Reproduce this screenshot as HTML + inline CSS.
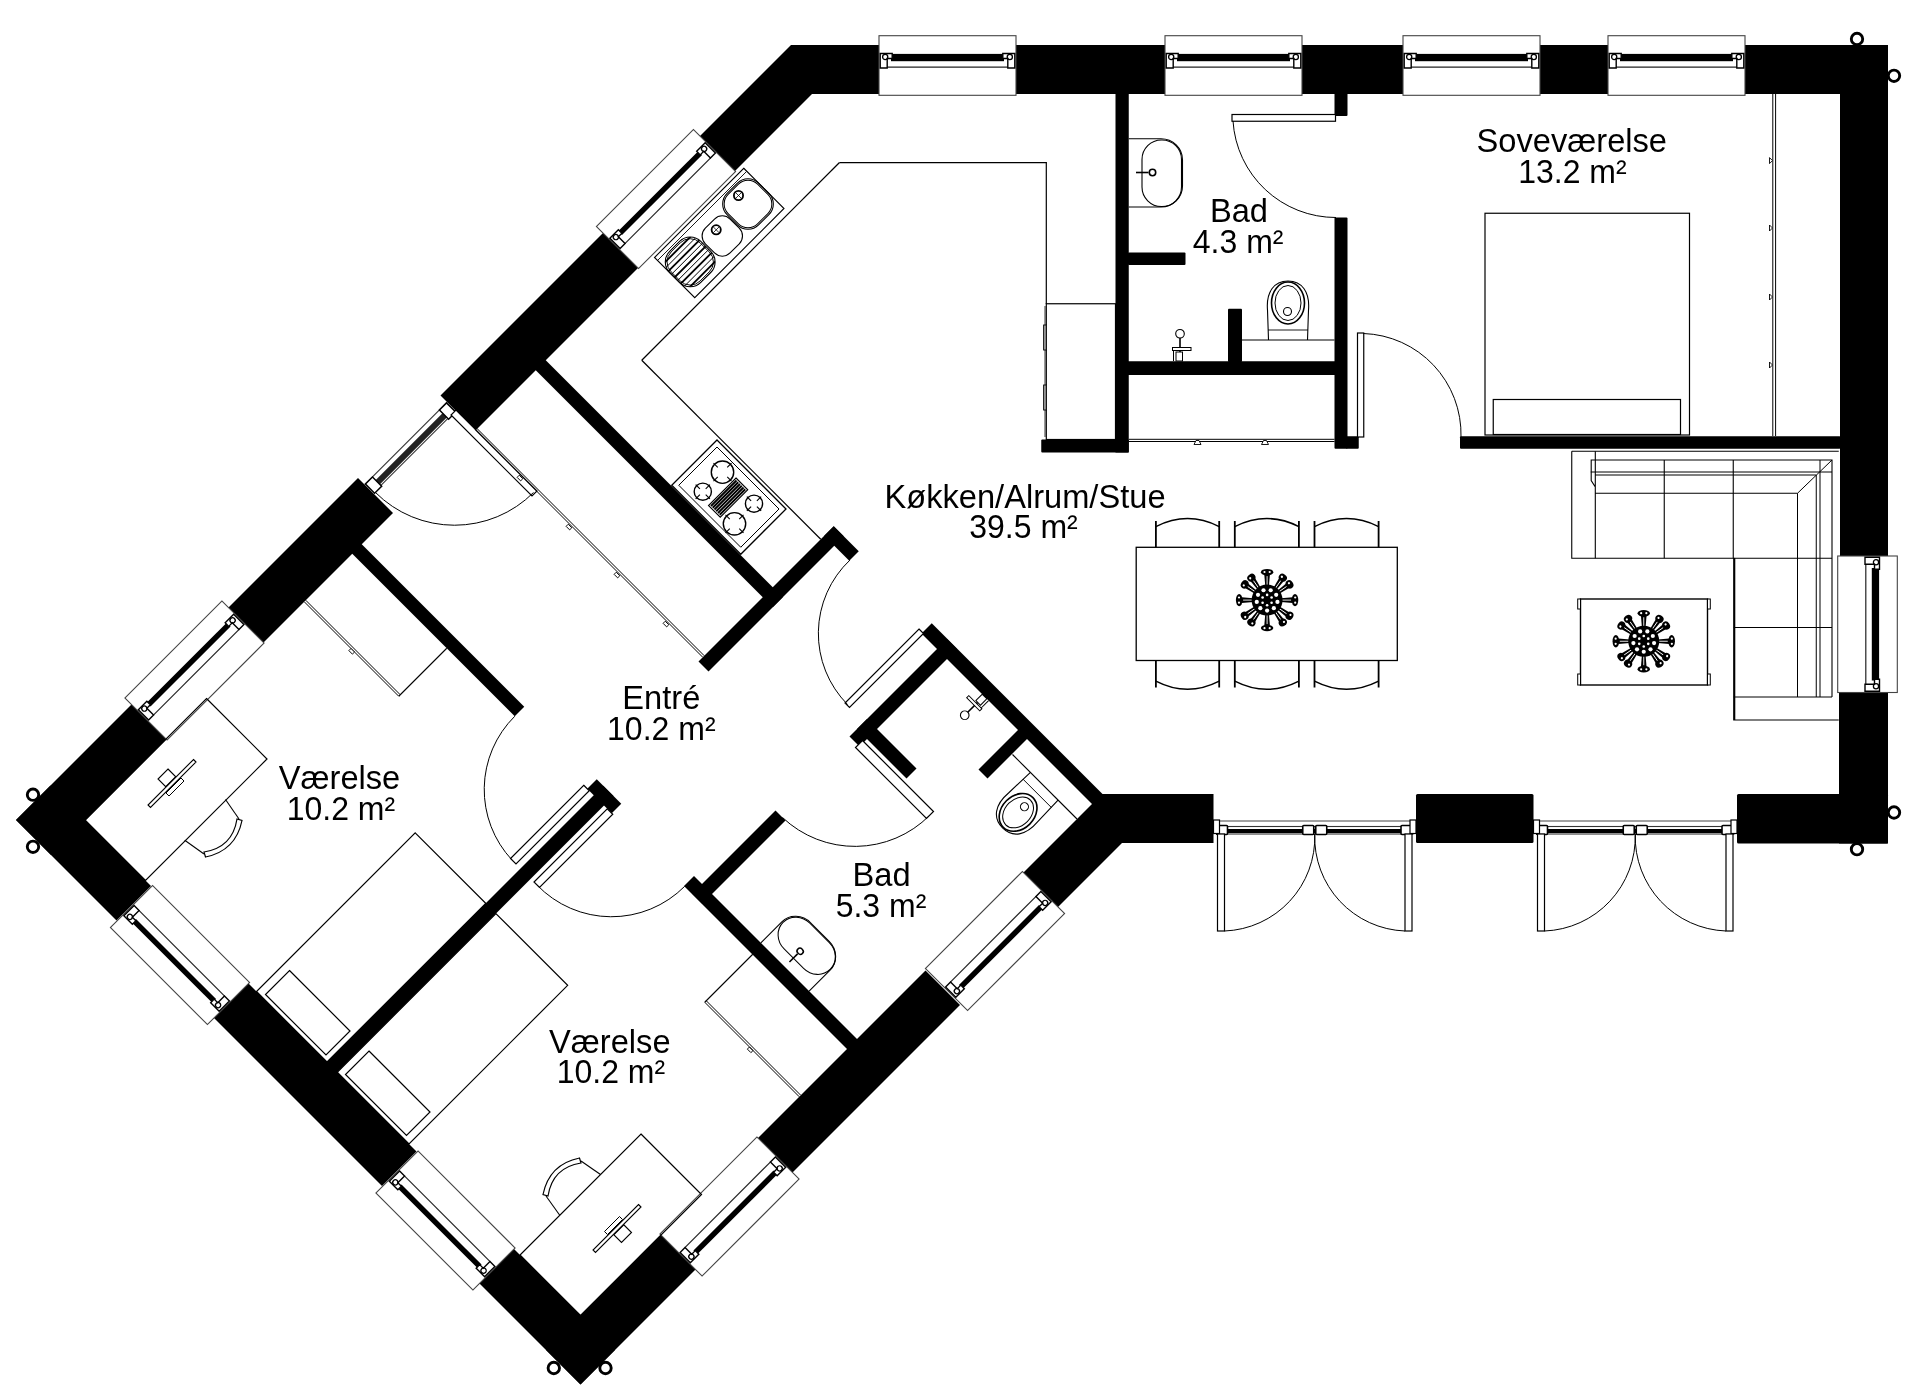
<!DOCTYPE html>
<html><head><meta charset="utf-8"><title>Plan</title>
<style>html,body{margin:0;padding:0;background:#fff;}svg{display:block;will-change:transform;}
text{font-family:"Liberation Sans",sans-serif;}</style></head>
<body>
<svg width="1920" height="1396" viewBox="0 0 1920 1396">
<rect width="1920" height="1396" fill="#fff"/>
<polygon points="791,45 880,45 880,94 812,94 735,171 700,136" fill="#000" />
<rect x="1016" y="45" width="149" height="49" fill="#000"/>
<rect x="1302" y="45" width="101" height="49" fill="#000"/>
<rect x="1540" y="45" width="68" height="49" fill="#000"/>
<rect x="1745" y="45" width="143" height="49" fill="#000"/>
<rect x="1840" y="45" width="48" height="511" fill="#000"/>
<rect x="1839" y="692.5" width="49" height="151" fill="#000"/>
<rect x="1416" y="794" width="117.5" height="49" rx="1.5" fill="#000"/>
<rect x="1737" y="794" width="151" height="49.5" rx="1.5" fill="#000"/>
<polygon points="1101.5,794 1213.5,794 1213.5,843 1122,843 1058,907 1023.5,872.5 1092,804" fill="#000" />
<polygon points="931.75,623.25 1106.75,798.25 1096.5,808.5 921.5,633.5" fill="#000" />
<polygon points="603,233 638,268 475.5,430.5 440.5,395.5" fill="#000" />
<polygon points="358,478 393,513 263.5,642.5 228.5,607.5" fill="#000" />
<polygon points="131.5,704.5 166.5,739.5 51,855 16,820" fill="#000" />
<polygon points="50.5,785.5 151,886 116.5,920.5 16,820" fill="#000" />
<polygon points="248.5,983.5 416.5,1151.5 382,1186 214,1018" fill="#000" />
<polygon points="514,1249 615,1350 580.5,1384.5 479.5,1283.5" fill="#000" />
<polygon points="661,1235 695.5,1269.5 580.5,1384.5 546,1350" fill="#000" />
<polygon points="925.5,970.5 960,1005 792.5,1172.5 758,1138" fill="#000" />
<polygon points="542.75,357.25 782.75,597.25 772.75,607.25 532.75,367.25" fill="#000" />
<polygon points="833.75,526.25 843.75,536.25 708.5,671.5 698.5,661.5" fill="#000" />
<polygon points="833.75,526.25 858.75,551.25 849.25,560.75 824.25,535.75" fill="#000" />
<polygon points="358.75,541.25 524.25,706.75 514.75,716.25 349.25,550.75" fill="#000" />
<polygon points="596.75,779.25 621.25,803.75 611.75,813.25 587.25,788.75" fill="#000" />
<polygon points="603.25,785.75 613.5,796 334.75,1074.75 324.5,1064.5" fill="#000" />
<polygon points="947,639 957,649 859.5,746.5 849.5,736.5" fill="#000" />
<polygon points="867,719 916.5,768.5 906.5,778.5 857,729" fill="#000" />
<polygon points="1019,729 1028,738 987.5,778.5 978.5,769.5" fill="#000" />
<polygon points="775.5,810.5 785.5,820.5 702.25,903.75 692.25,893.75" fill="#000" />
<polygon points="694,876 859,1041 849,1051 684,886" fill="#000" />
<rect x="1115.5" y="93" width="13.25" height="359.5" fill="#000"/>
<rect x="1041.25" y="439.5" width="87.5" height="13" rx="1" fill="#000"/>
<rect x="1128" y="252.5" width="57.5" height="12.5" rx="1" fill="#000"/>
<rect x="1128" y="361.25" width="207" height="13.75" fill="#000"/>
<rect x="1228" y="308.75" width="14" height="53.25" rx="1" fill="#000"/>
<rect x="1334.5" y="93" width="13" height="23" rx="1" fill="#000"/>
<rect x="1334.5" y="217.5" width="13" height="231.25" rx="1" fill="#000"/>
<rect x="1346" y="436.25" width="12.75" height="12.5" rx="1" fill="#000"/>
<rect x="1460" y="436.25" width="380.5" height="12.5" rx="1" fill="#000"/>
<g transform="translate(879,45) rotate(0)">
<rect x="0" y="-9.3" width="137" height="59.6" fill="#fff" stroke="#444" stroke-width="1.1"/>
<rect x="12" y="8.9" width="113" height="7.3" fill="#000"/>
<line x1="8" y1="22.2" x2="129" y2="22.2" stroke="#222" stroke-width="1.2"/>
<path d="M1.2,8.5 h12 v5 h-5 v9.5 h-7 z" fill="#fff" stroke="#000" stroke-width="1.4"/>
<circle cx="6.2" cy="12" r="2.6" fill="none" stroke="#000" stroke-width="1.3"/>
<path d="M135.8,8.5 h-12 v5 h5 v9.5 h7 z" fill="#fff" stroke="#000" stroke-width="1.4"/>
<circle cx="130.8" cy="12" r="2.6" fill="none" stroke="#000" stroke-width="1.3"/>
</g>
<g transform="translate(1165,45) rotate(0)">
<rect x="0" y="-9.3" width="137" height="59.6" fill="#fff" stroke="#444" stroke-width="1.1"/>
<rect x="12" y="8.9" width="113" height="7.3" fill="#000"/>
<line x1="8" y1="22.2" x2="129" y2="22.2" stroke="#222" stroke-width="1.2"/>
<path d="M1.2,8.5 h12 v5 h-5 v9.5 h-7 z" fill="#fff" stroke="#000" stroke-width="1.4"/>
<circle cx="6.2" cy="12" r="2.6" fill="none" stroke="#000" stroke-width="1.3"/>
<path d="M135.8,8.5 h-12 v5 h5 v9.5 h7 z" fill="#fff" stroke="#000" stroke-width="1.4"/>
<circle cx="130.8" cy="12" r="2.6" fill="none" stroke="#000" stroke-width="1.3"/>
</g>
<g transform="translate(1403,45) rotate(0)">
<rect x="0" y="-9.3" width="137" height="59.6" fill="#fff" stroke="#444" stroke-width="1.1"/>
<rect x="12" y="8.9" width="113" height="7.3" fill="#000"/>
<line x1="8" y1="22.2" x2="129" y2="22.2" stroke="#222" stroke-width="1.2"/>
<path d="M1.2,8.5 h12 v5 h-5 v9.5 h-7 z" fill="#fff" stroke="#000" stroke-width="1.4"/>
<circle cx="6.2" cy="12" r="2.6" fill="none" stroke="#000" stroke-width="1.3"/>
<path d="M135.8,8.5 h-12 v5 h5 v9.5 h7 z" fill="#fff" stroke="#000" stroke-width="1.4"/>
<circle cx="130.8" cy="12" r="2.6" fill="none" stroke="#000" stroke-width="1.3"/>
</g>
<g transform="translate(1608,45) rotate(0)">
<rect x="0" y="-9.3" width="137" height="59.6" fill="#fff" stroke="#444" stroke-width="1.1"/>
<rect x="12" y="8.9" width="113" height="7.3" fill="#000"/>
<line x1="8" y1="22.2" x2="129" y2="22.2" stroke="#222" stroke-width="1.2"/>
<path d="M1.2,8.5 h12 v5 h-5 v9.5 h-7 z" fill="#fff" stroke="#000" stroke-width="1.4"/>
<circle cx="6.2" cy="12" r="2.6" fill="none" stroke="#000" stroke-width="1.3"/>
<path d="M135.8,8.5 h-12 v5 h5 v9.5 h7 z" fill="#fff" stroke="#000" stroke-width="1.4"/>
<circle cx="130.8" cy="12" r="2.6" fill="none" stroke="#000" stroke-width="1.3"/>
</g>
<g transform="translate(1888,556) rotate(90)">
<rect x="0" y="-9.3" width="136.5" height="59.6" fill="#fff" stroke="#444" stroke-width="1.1"/>
<rect x="12" y="8.9" width="112.5" height="7.3" fill="#000"/>
<line x1="8" y1="22.2" x2="128.5" y2="22.2" stroke="#222" stroke-width="1.2"/>
<path d="M1.2,8.5 h12 v5 h-5 v9.5 h-7 z" fill="#fff" stroke="#000" stroke-width="1.4"/>
<circle cx="6.2" cy="12" r="2.6" fill="none" stroke="#000" stroke-width="1.3"/>
<path d="M135.3,8.5 h-12 v5 h5 v9.5 h7 z" fill="#fff" stroke="#000" stroke-width="1.4"/>
<circle cx="130.3" cy="12" r="2.6" fill="none" stroke="#000" stroke-width="1.3"/>
</g>
<g transform="translate(603,233) rotate(-45)">
<rect x="0" y="-9.3" width="137.18" height="59.6" fill="#fff" stroke="#444" stroke-width="1.1"/>
<rect x="12" y="9.4" width="113.18" height="5.5" fill="#000"/>
<line x1="8" y1="23" x2="129.18" y2="23" stroke="#222" stroke-width="1.2"/>
<path d="M1.2,8.5 h12 v5 h-5 v9.5 h-7 z" fill="#fff" stroke="#000" stroke-width="1.4"/>
<circle cx="6.2" cy="12" r="2.6" fill="none" stroke="#000" stroke-width="1.3"/>
<path d="M135.98,8.5 h-12 v5 h5 v9.5 h7 z" fill="#fff" stroke="#000" stroke-width="1.4"/>
<circle cx="130.98" cy="12" r="2.6" fill="none" stroke="#000" stroke-width="1.3"/>
</g>
<g transform="translate(131.5,704.5) rotate(-45)">
<rect x="0" y="-9.3" width="137.18" height="59.6" fill="#fff" stroke="#444" stroke-width="1.1"/>
<rect x="12" y="9.4" width="113.18" height="5.5" fill="#000"/>
<line x1="8" y1="23" x2="129.18" y2="23" stroke="#222" stroke-width="1.2"/>
<path d="M1.2,8.5 h12 v5 h-5 v9.5 h-7 z" fill="#fff" stroke="#000" stroke-width="1.4"/>
<circle cx="6.2" cy="12" r="2.6" fill="none" stroke="#000" stroke-width="1.3"/>
<path d="M135.98,8.5 h-12 v5 h5 v9.5 h7 z" fill="#fff" stroke="#000" stroke-width="1.4"/>
<circle cx="130.98" cy="12" r="2.6" fill="none" stroke="#000" stroke-width="1.3"/>
</g>
<g transform="translate(1058,907) rotate(135)">
<rect x="0" y="-9.3" width="137.18" height="59.6" fill="#fff" stroke="#444" stroke-width="1.1"/>
<rect x="12" y="9.4" width="113.18" height="5.5" fill="#000"/>
<line x1="8" y1="23" x2="129.18" y2="23" stroke="#222" stroke-width="1.2"/>
<path d="M1.2,8.5 h12 v5 h-5 v9.5 h-7 z" fill="#fff" stroke="#000" stroke-width="1.4"/>
<circle cx="6.2" cy="12" r="2.6" fill="none" stroke="#000" stroke-width="1.3"/>
<path d="M135.98,8.5 h-12 v5 h5 v9.5 h7 z" fill="#fff" stroke="#000" stroke-width="1.4"/>
<circle cx="130.98" cy="12" r="2.6" fill="none" stroke="#000" stroke-width="1.3"/>
</g>
<g transform="translate(792.5,1172.5) rotate(135)">
<rect x="0" y="-9.3" width="137.18" height="59.6" fill="#fff" stroke="#444" stroke-width="1.1"/>
<rect x="12" y="9.4" width="113.18" height="5.5" fill="#000"/>
<line x1="8" y1="23" x2="129.18" y2="23" stroke="#222" stroke-width="1.2"/>
<path d="M1.2,8.5 h12 v5 h-5 v9.5 h-7 z" fill="#fff" stroke="#000" stroke-width="1.4"/>
<circle cx="6.2" cy="12" r="2.6" fill="none" stroke="#000" stroke-width="1.3"/>
<path d="M135.98,8.5 h-12 v5 h5 v9.5 h7 z" fill="#fff" stroke="#000" stroke-width="1.4"/>
<circle cx="130.98" cy="12" r="2.6" fill="none" stroke="#000" stroke-width="1.3"/>
</g>
<g transform="translate(479.5,1283.5) rotate(-135)">
<rect x="0" y="-9.3" width="137.18" height="59.6" fill="#fff" stroke="#444" stroke-width="1.1"/>
<rect x="12" y="9.4" width="113.18" height="5.5" fill="#000"/>
<line x1="8" y1="23" x2="129.18" y2="23" stroke="#222" stroke-width="1.2"/>
<path d="M1.2,8.5 h12 v5 h-5 v9.5 h-7 z" fill="#fff" stroke="#000" stroke-width="1.4"/>
<circle cx="6.2" cy="12" r="2.6" fill="none" stroke="#000" stroke-width="1.3"/>
<path d="M135.98,8.5 h-12 v5 h5 v9.5 h7 z" fill="#fff" stroke="#000" stroke-width="1.4"/>
<circle cx="130.98" cy="12" r="2.6" fill="none" stroke="#000" stroke-width="1.3"/>
</g>
<g transform="translate(214,1018) rotate(-135)">
<rect x="0" y="-9.3" width="137.18" height="59.6" fill="#fff" stroke="#444" stroke-width="1.1"/>
<rect x="12" y="9.4" width="113.18" height="5.5" fill="#000"/>
<line x1="8" y1="23" x2="129.18" y2="23" stroke="#222" stroke-width="1.2"/>
<path d="M1.2,8.5 h12 v5 h-5 v9.5 h-7 z" fill="#fff" stroke="#000" stroke-width="1.4"/>
<circle cx="6.2" cy="12" r="2.6" fill="none" stroke="#000" stroke-width="1.3"/>
<path d="M135.98,8.5 h-12 v5 h5 v9.5 h7 z" fill="#fff" stroke="#000" stroke-width="1.4"/>
<circle cx="130.98" cy="12" r="2.6" fill="none" stroke="#000" stroke-width="1.3"/>
</g>
<g transform="translate(358,478) rotate(-45)">
<line x1="0" y1="9.5" x2="116.67" y2="9.5" stroke="#333" stroke-width="1.1"/>
<rect x="9" y="14" width="98.67" height="6" fill="#222"/>
<line x1="6" y1="21.5" x2="110.67" y2="21.5" stroke="#333" stroke-width="1.1"/>
<path d="M1,9.5 h10 v13 h-10 z" fill="#fff" stroke="#000" stroke-width="1.5"/>
<path d="M115.67,9.5 h-10 v13 h10 z" fill="#fff" stroke="#000" stroke-width="1.5"/>
</g>
<line x1="1213.5" y1="821" x2="1416" y2="821" stroke="#444" stroke-width="1.2"/>
<rect x="1216.5" y="826.5" width="196.5" height="7.5" fill="#fff" stroke="#333" stroke-width="1.1"/>
<rect x="1225.5" y="829" width="178.5" height="4" fill="#000"/>
<rect x="1216.5" y="825.5" width="11" height="9" rx="1" fill="#fff" stroke="#000" stroke-width="1.6"/>
<rect x="1302.75" y="825.5" width="11" height="9" rx="1" fill="#fff" stroke="#000" stroke-width="1.6"/>
<rect x="1315.75" y="825.5" width="11" height="9" rx="1" fill="#fff" stroke="#000" stroke-width="1.6"/>
<rect x="1401" y="825.5" width="11" height="9" rx="1" fill="#fff" stroke="#000" stroke-width="1.6"/>
<rect x="1213.5" y="820" width="6" height="13.5" fill="#fff" stroke="#000" stroke-width="1.2"/>
<rect x="1410" y="820" width="6" height="13.5" fill="#fff" stroke="#000" stroke-width="1.2"/>
<rect x="1217.5" y="834" width="7" height="97" fill="#fff" stroke="#000" stroke-width="1.2"/>
<rect x="1405" y="834" width="7" height="97" fill="#fff" stroke="#000" stroke-width="1.2"/>
<path d="M1224.5,931 A93.75,93.75 0 0 0 1314.75,834" stroke="#000" stroke-width="1.0" fill="none"/>
<path d="M1405,931 A93.75,93.75 0 0 1 1314.75,834" stroke="#000" stroke-width="1.0" fill="none"/>
<line x1="1533.5" y1="821" x2="1737" y2="821" stroke="#444" stroke-width="1.2"/>
<rect x="1536.5" y="826.5" width="197.5" height="7.5" fill="#fff" stroke="#333" stroke-width="1.1"/>
<rect x="1545.5" y="829" width="179.5" height="4" fill="#000"/>
<rect x="1536.5" y="825.5" width="11" height="9" rx="1" fill="#fff" stroke="#000" stroke-width="1.6"/>
<rect x="1623.25" y="825.5" width="11" height="9" rx="1" fill="#fff" stroke="#000" stroke-width="1.6"/>
<rect x="1636.25" y="825.5" width="11" height="9" rx="1" fill="#fff" stroke="#000" stroke-width="1.6"/>
<rect x="1722" y="825.5" width="11" height="9" rx="1" fill="#fff" stroke="#000" stroke-width="1.6"/>
<rect x="1533.5" y="820" width="6" height="13.5" fill="#fff" stroke="#000" stroke-width="1.2"/>
<rect x="1731" y="820" width="6" height="13.5" fill="#fff" stroke="#000" stroke-width="1.2"/>
<rect x="1537.5" y="834" width="7" height="97" fill="#fff" stroke="#000" stroke-width="1.2"/>
<rect x="1726" y="834" width="7" height="97" fill="#fff" stroke="#000" stroke-width="1.2"/>
<path d="M1544.5,931 A94.25,94.25 0 0 0 1635.25,834" stroke="#000" stroke-width="1.0" fill="none"/>
<path d="M1726,931 A94.25,94.25 0 0 1 1635.25,834" stroke="#000" stroke-width="1.0" fill="none"/>
<polygon points="456,410 537,491 532,496 451,415" fill="#fff" stroke="#000" stroke-width="1.2"/>
<path d="M533.5,492.5 A111.72,111.72 0 0 1 375.5,492.5" stroke="#000" stroke-width="1.0" fill="none"/>
<polygon points="583.75,785.25 589.25,790.75 516,864 510.5,858.5" fill="#fff" stroke="#000" stroke-width="1.2"/>
<path d="M512,860 A103.24,103.24 0 0 1 514.75,716.25" stroke="#000" stroke-width="1.0" fill="none"/>
<polygon points="607.25,808.75 612.75,814.25 539.5,887.5 534,882" fill="#fff" stroke="#000" stroke-width="1.2"/>
<path d="M537,885 A103.24,103.24 0 0 0 684.75,886.25" stroke="#000" stroke-width="1.0" fill="none"/>
<polygon points="919,629 923.5,633.5 849.5,707.5 845,703" fill="#fff" stroke="#000" stroke-width="1.2"/>
<path d="M847.5,704.5 A101.12,101.12 0 0 1 850,560" stroke="#000" stroke-width="1.0" fill="none"/>
<polygon points="862.5,740.5 933.5,811.5 926.5,818.5 855.5,747.5" fill="#fff" stroke="#000" stroke-width="1.2"/>
<path d="M929.5,815.5 A105.36,105.36 0 0 1 782.5,817.5" stroke="#000" stroke-width="1.0" fill="none"/>
<rect x="1232" y="114.5" width="103.5" height="6.75" fill="#fff" stroke="#000" stroke-width="1.2"/>
<path d="M1233,121 A103,103 0 0 0 1336,217.5" stroke="#000" stroke-width="1.0" fill="none"/>
<rect x="1357.5" y="333" width="6.25" height="104" fill="#fff" stroke="#000" stroke-width="1.2"/>
<path d="M1363.5,333.5 A101,101 0 0 1 1461,437" stroke="#000" stroke-width="1.0" fill="none"/>
<line x1="839.5" y1="162.6" x2="1046.5" y2="162.6" stroke="#000" stroke-width="1.2"/>
<line x1="1046.3" y1="162" x2="1046.3" y2="304" stroke="#000" stroke-width="1.2"/>
<line x1="839.5" y1="162.5" x2="641.75" y2="360.25" stroke="#000" stroke-width="1.2"/>
<line x1="641.75" y1="360.25" x2="820.75" y2="539.25" stroke="#000" stroke-width="1.2"/>
<rect x="1046.3" y="303.75" width="69.2" height="135.75" fill="none" stroke="#000" stroke-width="1.2"/>
<rect x="1043.6" y="325" width="2.7" height="25" fill="#fff" stroke="#000" stroke-width="0.9"/>
<rect x="1043.6" y="385" width="2.7" height="25" fill="#fff" stroke="#000" stroke-width="0.9"/>
<line x1="1045" y1="306" x2="1045" y2="437" stroke="#000" stroke-width="0.8"/>
<polygon points="743.75,168.25 784,208.5 694.75,297.75 654.5,257.5" fill="#fff" stroke="#000" stroke-width="1.1"/>
<rect x="725.7" y="181.7" width="44.6" height="44.6" rx="15" fill="none" stroke="#000" stroke-width="1.1" transform="rotate(45 748 204)"/>
<rect x="727.2" y="183.2" width="41.6" height="41.6" rx="13.5" fill="none" stroke="#000" stroke-width="1.0" transform="rotate(45 748 204)"/>
<rect x="704.8" y="218.5" width="35" height="35" rx="11" fill="none" stroke="#000" stroke-width="1.1" transform="rotate(45 722.3 236)"/>
<clipPath id="drn"><rect x="668.2" y="239.9" width="44" height="44" rx="15" transform="rotate(45 690.2 261.9)"/></clipPath>
<g clip-path="url(#drn)">
<line x1="692.4" y1="222.4" x2="647.4" y2="267.4" stroke="#000" stroke-width="1.8"/>
<line x1="695.5" y1="225.5" x2="650.5" y2="270.5" stroke="#000" stroke-width="1.0"/>
<line x1="698.6" y1="228.6" x2="653.6" y2="273.6" stroke="#000" stroke-width="1.8"/>
<line x1="701.7" y1="231.7" x2="656.7" y2="276.7" stroke="#000" stroke-width="1.0"/>
<line x1="704.8" y1="234.8" x2="659.8" y2="279.8" stroke="#000" stroke-width="1.8"/>
<line x1="707.9" y1="237.9" x2="662.9" y2="282.9" stroke="#000" stroke-width="1.0"/>
<line x1="711" y1="241" x2="666" y2="286" stroke="#000" stroke-width="1.8"/>
<line x1="714.1" y1="244.1" x2="669.1" y2="289.1" stroke="#000" stroke-width="1.0"/>
<line x1="717.2" y1="247.2" x2="672.2" y2="292.2" stroke="#000" stroke-width="1.8"/>
<line x1="720.3" y1="250.3" x2="675.3" y2="295.3" stroke="#000" stroke-width="1.0"/>
<line x1="723.4" y1="253.4" x2="678.4" y2="298.4" stroke="#000" stroke-width="1.8"/>
<line x1="726.5" y1="256.5" x2="681.5" y2="301.5" stroke="#000" stroke-width="1.0"/>
<line x1="729.6" y1="259.6" x2="684.6" y2="304.6" stroke="#000" stroke-width="1.8"/>
</g>
<rect x="668.2" y="239.9" width="44" height="44" rx="15" fill="none" stroke="#000" stroke-width="1.1" transform="rotate(45 690.2 261.9)"/>
<rect x="669.7" y="241.4" width="41" height="41" rx="14" fill="none" stroke="#000" stroke-width="0.9" transform="rotate(45 690.2 261.9)"/>
<circle cx="738.5" cy="195.5" r="4.6" fill="none" stroke="#000" stroke-width="1.8"/>
<line x1="735.5" y1="192.5" x2="741.5" y2="198.5" stroke="#000" stroke-width="0.8"/>
<line x1="735.5" y1="198.5" x2="741.5" y2="192.5" stroke="#000" stroke-width="0.8"/>
<circle cx="716.2" cy="229.8" r="4.6" fill="none" stroke="#000" stroke-width="1.8"/>
<line x1="713.2" y1="226.8" x2="719.2" y2="232.8" stroke="#000" stroke-width="0.8"/>
<line x1="713.2" y1="232.8" x2="719.2" y2="226.8" stroke="#000" stroke-width="0.8"/>
<line x1="746.5" y1="171.5" x2="657" y2="261" stroke="#000" stroke-width="0.9"/>
<polygon points="717,440 786,509 740.75,554.25 671.75,485.25" fill="#fff" stroke="#000" stroke-width="1.3"/>
<polygon points="717,447 779,509 740.75,547.25 678.75,485.25" fill="none" stroke="#000" stroke-width="1.0"/>
<circle cx="722.5" cy="472.2" r="11.2" fill="none" stroke="#000" stroke-width="1.4"/>
<line x1="727.24" y1="476.94" x2="731.48" y2="481.18" stroke="#000" stroke-width="1.1"/>
<line x1="717.76" y1="476.94" x2="713.52" y2="481.18" stroke="#000" stroke-width="1.1"/>
<line x1="717.76" y1="467.46" x2="713.52" y2="463.22" stroke="#000" stroke-width="1.1"/>
<line x1="727.24" y1="467.46" x2="731.48" y2="463.22" stroke="#000" stroke-width="1.1"/>
<circle cx="734.5" cy="523.8" r="11.2" fill="none" stroke="#000" stroke-width="1.4"/>
<line x1="739.24" y1="528.54" x2="743.48" y2="532.78" stroke="#000" stroke-width="1.1"/>
<line x1="729.76" y1="528.54" x2="725.52" y2="532.78" stroke="#000" stroke-width="1.1"/>
<line x1="729.76" y1="519.06" x2="725.52" y2="514.82" stroke="#000" stroke-width="1.1"/>
<line x1="739.24" y1="519.06" x2="743.48" y2="514.82" stroke="#000" stroke-width="1.1"/>
<circle cx="702.8" cy="491.7" r="8.6" fill="none" stroke="#000" stroke-width="1.4"/>
<line x1="705.7" y1="494.6" x2="709.94" y2="498.84" stroke="#000" stroke-width="1.1"/>
<line x1="699.9" y1="494.6" x2="695.66" y2="498.84" stroke="#000" stroke-width="1.1"/>
<line x1="699.9" y1="488.8" x2="695.66" y2="484.56" stroke="#000" stroke-width="1.1"/>
<line x1="705.7" y1="488.8" x2="709.94" y2="484.56" stroke="#000" stroke-width="1.1"/>
<circle cx="754" cy="503.7" r="8.6" fill="none" stroke="#000" stroke-width="1.4"/>
<line x1="756.9" y1="506.6" x2="761.14" y2="510.84" stroke="#000" stroke-width="1.1"/>
<line x1="751.1" y1="506.6" x2="746.86" y2="510.84" stroke="#000" stroke-width="1.1"/>
<line x1="751.1" y1="500.8" x2="746.86" y2="496.56" stroke="#000" stroke-width="1.1"/>
<line x1="756.9" y1="500.8" x2="761.14" y2="496.56" stroke="#000" stroke-width="1.1"/>
<polygon points="736,478 747.75,489.75 720.25,517.25 708.5,505.5" fill="#fff" stroke="#000" stroke-width="1.1"/>
<line x1="736.5" y1="480.5" x2="711" y2="506" stroke="#000" stroke-width="1.9"/>
<line x1="738.25" y1="482.25" x2="712.75" y2="507.75" stroke="#000" stroke-width="1.9"/>
<line x1="740" y1="484" x2="714.5" y2="509.5" stroke="#000" stroke-width="1.9"/>
<line x1="741.75" y1="485.75" x2="716.25" y2="511.25" stroke="#000" stroke-width="1.9"/>
<line x1="743.5" y1="487.5" x2="718" y2="513" stroke="#000" stroke-width="1.9"/>
<line x1="745.25" y1="489.25" x2="719.75" y2="514.75" stroke="#000" stroke-width="1.9"/>
<line x1="476.75" y1="428.25" x2="704.25" y2="655.75" stroke="#000" stroke-width="1.0"/>
<line x1="475.25" y1="429.75" x2="702.75" y2="657.25" stroke="#000" stroke-width="1.0"/>
<rect x="518.5" y="477" width="5" height="3" fill="#fff" stroke="#000" stroke-width="0.9" transform="rotate(45 521 477)"/>
<rect x="567.5" y="526" width="5" height="3" fill="#fff" stroke="#000" stroke-width="0.9" transform="rotate(45 570 526)"/>
<rect x="615.5" y="574" width="5" height="3" fill="#fff" stroke="#000" stroke-width="0.9" transform="rotate(45 618 574)"/>
<rect x="664.5" y="623" width="5" height="3" fill="#fff" stroke="#000" stroke-width="0.9" transform="rotate(45 667 623)"/>
<line x1="305.75" y1="600.25" x2="400.25" y2="694.75" stroke="#000" stroke-width="1.0"/>
<line x1="304.25" y1="601.75" x2="398.75" y2="696.25" stroke="#000" stroke-width="1.0"/>
<line x1="446.75" y1="648.25" x2="398.75" y2="696.25" stroke="#000" stroke-width="1.1"/>
<rect x="350.25" y="650.25" width="5" height="3" fill="#fff" stroke="#000" stroke-width="0.9" transform="rotate(45 352.75 650.25)"/>
<rect x="748.75" y="1048.75" width="5" height="3" fill="#fff" stroke="#000" stroke-width="0.9" transform="rotate(45 751.25 1048.75)"/>
<line x1="752.75" y1="954.25" x2="704.75" y2="1002.25" stroke="#000" stroke-width="1.1"/>
<line x1="706.25" y1="1000.75" x2="800.75" y2="1095.25" stroke="#000" stroke-width="1.0"/>
<line x1="704.75" y1="1002.25" x2="799.25" y2="1096.75" stroke="#000" stroke-width="1.0"/>
<polygon points="415.2,832.8 485.7,903.3 327,1062 256.5,991.5" fill="none" stroke="#000" stroke-width="1.2"/>
<polygon points="289.5,970.5 350,1031 326,1055 265.5,994.5" fill="none" stroke="#000" stroke-width="1.2"/>
<polygon points="495.9,913.6 567.65,985.35 409,1144 337.25,1072.25" fill="none" stroke="#000" stroke-width="1.2"/>
<polygon points="369,1051 430,1112 406.5,1135.5 345.5,1074.5" fill="none" stroke="#000" stroke-width="1.2"/>
<polygon points="206.5,698.5 267,759 145.5,880.5 85,820" fill="none" stroke="#000" stroke-width="1.2"/>
<polygon points="641,1134 701.5,1194.5 580.5,1315.5 520,1255" fill="none" stroke="#000" stroke-width="1.2"/>
<polygon points="168,769 175.75,776.75 165.75,786.75 158,779" fill="#fff" stroke="#000" stroke-width="1.1"/>
<polygon points="193.5,759.5 196,762 150.5,807.5 148,805" fill="#fff" stroke="#000" stroke-width="1.1"/>
<polygon points="181,778 184,781 169,796 166,793" fill="#fff" stroke="#000" stroke-width="1.0"/>
<polygon points="623.75,1224.75 631.5,1232.5 621.5,1242.5 613.75,1234.75" fill="#fff" stroke="#000" stroke-width="1.1"/>
<polygon points="638.5,1204.5 641,1207 595.5,1252.5 593,1250" fill="#fff" stroke="#000" stroke-width="1.1"/>
<polygon points="619.5,1216.5 622.5,1219.5 607.5,1234.5 604.5,1231.5" fill="#fff" stroke="#000" stroke-width="1.0"/>
<line x1="184.75" y1="840.25" x2="204" y2="854" stroke="#000" stroke-width="1.1"/>
<line x1="225.5" y1="799.5" x2="239" y2="819" stroke="#000" stroke-width="1.1"/>
<path d="M204,852 Q232.5,847.5 237,819 L242,820.5 L242,820.5 Q235.75,850.75 205.5,857 Z" stroke="#000" stroke-width="1.2" fill="#fff"/>
<line x1="559.75" y1="1215.25" x2="546" y2="1196" stroke="#000" stroke-width="1.1"/>
<line x1="600.5" y1="1174.5" x2="581" y2="1161" stroke="#000" stroke-width="1.1"/>
<path d="M548,1196 Q552.5,1167.5 581,1163 L579.5,1158 L579.5,1158 Q549.25,1164.25 543,1194.5 Z" stroke="#000" stroke-width="1.2" fill="#fff"/>
<rect x="1136.2" y="547.3" width="261.1" height="113.2" fill="none" stroke="#000" stroke-width="1.3"/>
<line x1="1155.9" y1="521" x2="1155.9" y2="547.3" stroke="#000" stroke-width="1.8"/>
<line x1="1219.2" y1="521" x2="1219.2" y2="547.3" stroke="#000" stroke-width="1.8"/>
<path d="M1155.9,526.6 Q1187.55,510.5 1219.2,526.6" stroke="#000" stroke-width="1.5" fill="none"/>
<line x1="1155.9" y1="660.5" x2="1155.9" y2="687.5" stroke="#000" stroke-width="1.8"/>
<line x1="1219.2" y1="660.5" x2="1219.2" y2="687.5" stroke="#000" stroke-width="1.8"/>
<path d="M1155.9,681.2 Q1187.55,697.5 1219.2,681.2" stroke="#000" stroke-width="1.5" fill="none"/>
<line x1="1234.8" y1="521" x2="1234.8" y2="547.3" stroke="#000" stroke-width="1.8"/>
<line x1="1298.9" y1="521" x2="1298.9" y2="547.3" stroke="#000" stroke-width="1.8"/>
<path d="M1234.8,526.6 Q1266.85,510.5 1298.9,526.6" stroke="#000" stroke-width="1.5" fill="none"/>
<line x1="1234.8" y1="660.5" x2="1234.8" y2="687.5" stroke="#000" stroke-width="1.8"/>
<line x1="1298.9" y1="660.5" x2="1298.9" y2="687.5" stroke="#000" stroke-width="1.8"/>
<path d="M1234.8,681.2 Q1266.85,697.5 1298.9,681.2" stroke="#000" stroke-width="1.5" fill="none"/>
<line x1="1314.5" y1="521" x2="1314.5" y2="547.3" stroke="#000" stroke-width="1.8"/>
<line x1="1378.6" y1="521" x2="1378.6" y2="547.3" stroke="#000" stroke-width="1.8"/>
<path d="M1314.5,526.6 Q1346.55,510.5 1378.6,526.6" stroke="#000" stroke-width="1.5" fill="none"/>
<line x1="1314.5" y1="660.5" x2="1314.5" y2="687.5" stroke="#000" stroke-width="1.8"/>
<line x1="1378.6" y1="660.5" x2="1378.6" y2="687.5" stroke="#000" stroke-width="1.8"/>
<path d="M1314.5,681.2 Q1346.55,697.5 1378.6,681.2" stroke="#000" stroke-width="1.5" fill="none"/>
<g transform="translate(1267.1,600.1)">
<g transform="rotate(0)">
<path d="M11,-1.6 L25.5,-2.8 L25.5,2.8 L11,1.6 Z" fill="#000"/>
<line x1="14" y1="0" x2="24" y2="0" stroke="#fff" stroke-width="0.9"/>
<ellipse cx="27.9" cy="0" rx="3.3" ry="6.2" fill="#000"/>
<circle cx="28.1" cy="-2.6" r="1.1" fill="#fff"/><circle cx="28.1" cy="2.6" r="1.1" fill="#fff"/>
</g>
<g transform="rotate(35)">
<path d="M11,-1.6 L25.5,-2.8 L25.5,2.8 L11,1.6 Z" fill="#000"/>
<line x1="14" y1="0" x2="24" y2="0" stroke="#fff" stroke-width="0.9"/>
<ellipse cx="27.4" cy="0" rx="3.6" ry="4.3" fill="#000"/>
<circle cx="27.6" cy="-1.3" r="1.1" fill="#fff"/>
</g>
<g transform="rotate(55)">
<path d="M11,-1.6 L25.5,-2.8 L25.5,2.8 L11,1.6 Z" fill="#000"/>
<line x1="14" y1="0" x2="24" y2="0" stroke="#fff" stroke-width="0.9"/>
<ellipse cx="27.4" cy="0" rx="3.6" ry="4.3" fill="#000"/>
<circle cx="27.6" cy="-1.3" r="1.1" fill="#fff"/>
</g>
<g transform="rotate(90)">
<path d="M11,-1.6 L25.5,-2.8 L25.5,2.8 L11,1.6 Z" fill="#000"/>
<line x1="14" y1="0" x2="24" y2="0" stroke="#fff" stroke-width="0.9"/>
<ellipse cx="27.9" cy="0" rx="3.3" ry="6.2" fill="#000"/>
<circle cx="28.1" cy="-2.6" r="1.1" fill="#fff"/><circle cx="28.1" cy="2.6" r="1.1" fill="#fff"/>
</g>
<g transform="rotate(125)">
<path d="M11,-1.6 L25.5,-2.8 L25.5,2.8 L11,1.6 Z" fill="#000"/>
<line x1="14" y1="0" x2="24" y2="0" stroke="#fff" stroke-width="0.9"/>
<ellipse cx="27.4" cy="0" rx="3.6" ry="4.3" fill="#000"/>
<circle cx="27.6" cy="-1.3" r="1.1" fill="#fff"/>
</g>
<g transform="rotate(145)">
<path d="M11,-1.6 L25.5,-2.8 L25.5,2.8 L11,1.6 Z" fill="#000"/>
<line x1="14" y1="0" x2="24" y2="0" stroke="#fff" stroke-width="0.9"/>
<ellipse cx="27.4" cy="0" rx="3.6" ry="4.3" fill="#000"/>
<circle cx="27.6" cy="-1.3" r="1.1" fill="#fff"/>
</g>
<g transform="rotate(180)">
<path d="M11,-1.6 L25.5,-2.8 L25.5,2.8 L11,1.6 Z" fill="#000"/>
<line x1="14" y1="0" x2="24" y2="0" stroke="#fff" stroke-width="0.9"/>
<ellipse cx="27.9" cy="0" rx="3.3" ry="6.2" fill="#000"/>
<circle cx="28.1" cy="-2.6" r="1.1" fill="#fff"/><circle cx="28.1" cy="2.6" r="1.1" fill="#fff"/>
</g>
<g transform="rotate(215)">
<path d="M11,-1.6 L25.5,-2.8 L25.5,2.8 L11,1.6 Z" fill="#000"/>
<line x1="14" y1="0" x2="24" y2="0" stroke="#fff" stroke-width="0.9"/>
<ellipse cx="27.4" cy="0" rx="3.6" ry="4.3" fill="#000"/>
<circle cx="27.6" cy="-1.3" r="1.1" fill="#fff"/>
</g>
<g transform="rotate(235)">
<path d="M11,-1.6 L25.5,-2.8 L25.5,2.8 L11,1.6 Z" fill="#000"/>
<line x1="14" y1="0" x2="24" y2="0" stroke="#fff" stroke-width="0.9"/>
<ellipse cx="27.4" cy="0" rx="3.6" ry="4.3" fill="#000"/>
<circle cx="27.6" cy="-1.3" r="1.1" fill="#fff"/>
</g>
<g transform="rotate(270)">
<path d="M11,-1.6 L25.5,-2.8 L25.5,2.8 L11,1.6 Z" fill="#000"/>
<line x1="14" y1="0" x2="24" y2="0" stroke="#fff" stroke-width="0.9"/>
<ellipse cx="27.9" cy="0" rx="3.3" ry="6.2" fill="#000"/>
<circle cx="28.1" cy="-2.6" r="1.1" fill="#fff"/><circle cx="28.1" cy="2.6" r="1.1" fill="#fff"/>
</g>
<g transform="rotate(305)">
<path d="M11,-1.6 L25.5,-2.8 L25.5,2.8 L11,1.6 Z" fill="#000"/>
<line x1="14" y1="0" x2="24" y2="0" stroke="#fff" stroke-width="0.9"/>
<ellipse cx="27.4" cy="0" rx="3.6" ry="4.3" fill="#000"/>
<circle cx="27.6" cy="-1.3" r="1.1" fill="#fff"/>
</g>
<g transform="rotate(325)">
<path d="M11,-1.6 L25.5,-2.8 L25.5,2.8 L11,1.6 Z" fill="#000"/>
<line x1="14" y1="0" x2="24" y2="0" stroke="#fff" stroke-width="0.9"/>
<ellipse cx="27.4" cy="0" rx="3.6" ry="4.3" fill="#000"/>
<circle cx="27.6" cy="-1.3" r="1.1" fill="#fff"/>
</g>
<circle r="15.5" fill="#000"/>
<circle cx="10.34" cy="1.82" r="2.1" fill="#fff"/>
<circle cx="6.75" cy="8.04" r="2.1" fill="#fff"/>
<circle cx="0" cy="10.5" r="2.1" fill="#fff"/>
<circle cx="-6.75" cy="8.04" r="2.1" fill="#fff"/>
<circle cx="-10.34" cy="1.82" r="2.1" fill="#fff"/>
<circle cx="-9.09" cy="-5.25" r="2.1" fill="#fff"/>
<circle cx="-3.59" cy="-9.87" r="2.1" fill="#fff"/>
<circle cx="3.59" cy="-9.87" r="2.1" fill="#fff"/>
<circle cx="9.09" cy="-5.25" r="2.1" fill="#fff"/>
<circle cx="4.5" cy="2.6" r="1.3" fill="#fff"/>
<circle cx="0" cy="5.2" r="1.3" fill="#fff"/>
<circle cx="-4.5" cy="2.6" r="1.3" fill="#fff"/>
<circle cx="-4.5" cy="-2.6" r="1.3" fill="#fff"/>
<circle cx="-0" cy="-5.2" r="1.3" fill="#fff"/>
<circle cx="4.5" cy="-2.6" r="1.3" fill="#fff"/>
</g>
<g transform="translate(1643.75,641.25)">
<g transform="rotate(0)">
<path d="M11,-1.6 L25.5,-2.8 L25.5,2.8 L11,1.6 Z" fill="#000"/>
<line x1="14" y1="0" x2="24" y2="0" stroke="#fff" stroke-width="0.9"/>
<ellipse cx="27.9" cy="0" rx="3.3" ry="6.2" fill="#000"/>
<circle cx="28.1" cy="-2.6" r="1.1" fill="#fff"/><circle cx="28.1" cy="2.6" r="1.1" fill="#fff"/>
</g>
<g transform="rotate(35)">
<path d="M11,-1.6 L25.5,-2.8 L25.5,2.8 L11,1.6 Z" fill="#000"/>
<line x1="14" y1="0" x2="24" y2="0" stroke="#fff" stroke-width="0.9"/>
<ellipse cx="27.4" cy="0" rx="3.6" ry="4.3" fill="#000"/>
<circle cx="27.6" cy="-1.3" r="1.1" fill="#fff"/>
</g>
<g transform="rotate(55)">
<path d="M11,-1.6 L25.5,-2.8 L25.5,2.8 L11,1.6 Z" fill="#000"/>
<line x1="14" y1="0" x2="24" y2="0" stroke="#fff" stroke-width="0.9"/>
<ellipse cx="27.4" cy="0" rx="3.6" ry="4.3" fill="#000"/>
<circle cx="27.6" cy="-1.3" r="1.1" fill="#fff"/>
</g>
<g transform="rotate(90)">
<path d="M11,-1.6 L25.5,-2.8 L25.5,2.8 L11,1.6 Z" fill="#000"/>
<line x1="14" y1="0" x2="24" y2="0" stroke="#fff" stroke-width="0.9"/>
<ellipse cx="27.9" cy="0" rx="3.3" ry="6.2" fill="#000"/>
<circle cx="28.1" cy="-2.6" r="1.1" fill="#fff"/><circle cx="28.1" cy="2.6" r="1.1" fill="#fff"/>
</g>
<g transform="rotate(125)">
<path d="M11,-1.6 L25.5,-2.8 L25.5,2.8 L11,1.6 Z" fill="#000"/>
<line x1="14" y1="0" x2="24" y2="0" stroke="#fff" stroke-width="0.9"/>
<ellipse cx="27.4" cy="0" rx="3.6" ry="4.3" fill="#000"/>
<circle cx="27.6" cy="-1.3" r="1.1" fill="#fff"/>
</g>
<g transform="rotate(145)">
<path d="M11,-1.6 L25.5,-2.8 L25.5,2.8 L11,1.6 Z" fill="#000"/>
<line x1="14" y1="0" x2="24" y2="0" stroke="#fff" stroke-width="0.9"/>
<ellipse cx="27.4" cy="0" rx="3.6" ry="4.3" fill="#000"/>
<circle cx="27.6" cy="-1.3" r="1.1" fill="#fff"/>
</g>
<g transform="rotate(180)">
<path d="M11,-1.6 L25.5,-2.8 L25.5,2.8 L11,1.6 Z" fill="#000"/>
<line x1="14" y1="0" x2="24" y2="0" stroke="#fff" stroke-width="0.9"/>
<ellipse cx="27.9" cy="0" rx="3.3" ry="6.2" fill="#000"/>
<circle cx="28.1" cy="-2.6" r="1.1" fill="#fff"/><circle cx="28.1" cy="2.6" r="1.1" fill="#fff"/>
</g>
<g transform="rotate(215)">
<path d="M11,-1.6 L25.5,-2.8 L25.5,2.8 L11,1.6 Z" fill="#000"/>
<line x1="14" y1="0" x2="24" y2="0" stroke="#fff" stroke-width="0.9"/>
<ellipse cx="27.4" cy="0" rx="3.6" ry="4.3" fill="#000"/>
<circle cx="27.6" cy="-1.3" r="1.1" fill="#fff"/>
</g>
<g transform="rotate(235)">
<path d="M11,-1.6 L25.5,-2.8 L25.5,2.8 L11,1.6 Z" fill="#000"/>
<line x1="14" y1="0" x2="24" y2="0" stroke="#fff" stroke-width="0.9"/>
<ellipse cx="27.4" cy="0" rx="3.6" ry="4.3" fill="#000"/>
<circle cx="27.6" cy="-1.3" r="1.1" fill="#fff"/>
</g>
<g transform="rotate(270)">
<path d="M11,-1.6 L25.5,-2.8 L25.5,2.8 L11,1.6 Z" fill="#000"/>
<line x1="14" y1="0" x2="24" y2="0" stroke="#fff" stroke-width="0.9"/>
<ellipse cx="27.9" cy="0" rx="3.3" ry="6.2" fill="#000"/>
<circle cx="28.1" cy="-2.6" r="1.1" fill="#fff"/><circle cx="28.1" cy="2.6" r="1.1" fill="#fff"/>
</g>
<g transform="rotate(305)">
<path d="M11,-1.6 L25.5,-2.8 L25.5,2.8 L11,1.6 Z" fill="#000"/>
<line x1="14" y1="0" x2="24" y2="0" stroke="#fff" stroke-width="0.9"/>
<ellipse cx="27.4" cy="0" rx="3.6" ry="4.3" fill="#000"/>
<circle cx="27.6" cy="-1.3" r="1.1" fill="#fff"/>
</g>
<g transform="rotate(325)">
<path d="M11,-1.6 L25.5,-2.8 L25.5,2.8 L11,1.6 Z" fill="#000"/>
<line x1="14" y1="0" x2="24" y2="0" stroke="#fff" stroke-width="0.9"/>
<ellipse cx="27.4" cy="0" rx="3.6" ry="4.3" fill="#000"/>
<circle cx="27.6" cy="-1.3" r="1.1" fill="#fff"/>
</g>
<circle r="15.5" fill="#000"/>
<circle cx="10.34" cy="1.82" r="2.1" fill="#fff"/>
<circle cx="6.75" cy="8.04" r="2.1" fill="#fff"/>
<circle cx="0" cy="10.5" r="2.1" fill="#fff"/>
<circle cx="-6.75" cy="8.04" r="2.1" fill="#fff"/>
<circle cx="-10.34" cy="1.82" r="2.1" fill="#fff"/>
<circle cx="-9.09" cy="-5.25" r="2.1" fill="#fff"/>
<circle cx="-3.59" cy="-9.87" r="2.1" fill="#fff"/>
<circle cx="3.59" cy="-9.87" r="2.1" fill="#fff"/>
<circle cx="9.09" cy="-5.25" r="2.1" fill="#fff"/>
<circle cx="4.5" cy="2.6" r="1.3" fill="#fff"/>
<circle cx="0" cy="5.2" r="1.3" fill="#fff"/>
<circle cx="-4.5" cy="2.6" r="1.3" fill="#fff"/>
<circle cx="-4.5" cy="-2.6" r="1.3" fill="#fff"/>
<circle cx="-0" cy="-5.2" r="1.3" fill="#fff"/>
<circle cx="4.5" cy="-2.6" r="1.3" fill="#fff"/>
</g>
<rect x="1580.5" y="599" width="127" height="86" fill="none" stroke="#000" stroke-width="1.4"/>
<rect x="1577.7" y="599" width="2.8" height="10" fill="#fff" stroke="#000" stroke-width="1.0"/>
<rect x="1577.7" y="674" width="2.8" height="11" fill="#fff" stroke="#000" stroke-width="1.0"/>
<rect x="1707.5" y="599" width="2.8" height="10" fill="#fff" stroke="#000" stroke-width="1.0"/>
<rect x="1707.5" y="674" width="2.8" height="11" fill="#fff" stroke="#000" stroke-width="1.0"/>
<path d="M1571.75,451.25 H1838.75 M1571.75,451.25 V558.25 H1733.75 V720 H1838.75" stroke="#000" stroke-width="1.1" fill="none"/>
<path d="M1591.2,472 V460 H1832 V697 M1591.2,472 V480.5 L1595.3,487 M1595.3,451.25 V558.25" stroke="#000" stroke-width="1.1" fill="none"/>
<line x1="1590.75" y1="472" x2="1832" y2="472" stroke="#000" stroke-width="1.0"/>
<line x1="1595" y1="475" x2="1816" y2="475" stroke="#000" stroke-width="1.0"/>
<line x1="1595" y1="493.25" x2="1797.5" y2="493.25" stroke="#000" stroke-width="1.1"/>
<line x1="1664.25" y1="460" x2="1664.25" y2="558.25" stroke="#000" stroke-width="1.1"/>
<line x1="1733.25" y1="460" x2="1733.25" y2="558.25" stroke="#000" stroke-width="1.1"/>
<line x1="1797.5" y1="493.25" x2="1797.5" y2="697" stroke="#000" stroke-width="1.0"/>
<line x1="1816.25" y1="475" x2="1816.25" y2="697" stroke="#000" stroke-width="1.0"/>
<line x1="1820" y1="460" x2="1820" y2="697" stroke="#000" stroke-width="1.0"/>
<line x1="1797.5" y1="493.25" x2="1832" y2="460" stroke="#000" stroke-width="1.0"/>
<line x1="1733.75" y1="558.25" x2="1832" y2="558.25" stroke="#000" stroke-width="1.0"/>
<line x1="1733.75" y1="627.5" x2="1832" y2="627.5" stroke="#000" stroke-width="1.0"/>
<line x1="1733.75" y1="697" x2="1832" y2="697" stroke="#000" stroke-width="1.0"/>
<line x1="1734.5" y1="558" x2="1734.5" y2="720" stroke="#000" stroke-width="1.6"/>
<rect x="1485" y="213.25" width="204.5" height="221.75" fill="none" stroke="#000" stroke-width="1.2"/>
<rect x="1493.25" y="399.5" width="187.25" height="35" fill="none" stroke="#000" stroke-width="1.2"/>
<line x1="1772.8" y1="94" x2="1772.8" y2="436" stroke="#000" stroke-width="1.0"/>
<line x1="1775.6" y1="94" x2="1775.6" y2="436" stroke="#000" stroke-width="1.0"/>
<path d="M1772.5,160.6 l-3,-3 v6 z" fill="#fff" stroke="#000" stroke-width="0.9"/>
<path d="M1772.5,228 l-3,-3 v6 z" fill="#fff" stroke="#000" stroke-width="0.9"/>
<path d="M1772.5,297 l-3,-3 v6 z" fill="#fff" stroke="#000" stroke-width="0.9"/>
<path d="M1772.5,365 l-3,-3 v6 z" fill="#fff" stroke="#000" stroke-width="0.9"/>
<g transform="translate(1128.75,172.9) rotate(0) scale(1,1)">
<path d="M0,-34.15 H32.25 A21.5,21 0 0 1 53.75,-13.15 V13.1 A21.5,21 0 0 1 32.25,34.1 H0" fill="none" stroke="#000" stroke-width="1.1"/>
<rect x="13.25" y="-32.9" width="39.5" height="66.5" rx="19.5" fill="none" stroke="#000" stroke-width="1.1"/>
<circle cx="23.75" cy="-0.4" r="3.2" fill="none" stroke="#000" stroke-width="1.6"/>
<line x1="7.25" y1="-0.4" x2="19.75" y2="-0.4" stroke="#000" stroke-width="1.6"/>
</g>
<line x1="1242" y1="340" x2="1334.5" y2="340" stroke="#000" stroke-width="1.1"/>
<g transform="translate(1288,340) rotate(0)" fill="none" stroke="#000">
<path d="M-19.5,0 L-20.5,-30 C-22,-48 -14,-59 0,-59 C14,-59 22,-48 20.5,-30 L19.5,0" stroke-width="1.1"/>
<ellipse cx="0" cy="-37" rx="16.5" ry="21" stroke-width="1.6"/>
<ellipse cx="0" cy="-37" rx="13" ry="17.5" stroke-width="1"/>
<circle cx="-0.5" cy="-28.5" r="4" stroke-width="1.1"/>
<line x1="-20" y1="-10" x2="20" y2="-10" stroke-width="0.9"/>
</g>
<g transform="translate(1180,361) rotate(0)" fill="#fff" stroke="#000">
<circle cx="0" cy="-27.25" r="4.3" stroke-width="1.1"/>
<line x1="0" y1="-23" x2="0" y2="-9" stroke-width="1.6"/>
<rect x="-7.5" y="-13.5" width="18.5" height="3" stroke-width="1"/>
<rect x="-4" y="-9" width="6.5" height="9" stroke-width="1"/>
<line x1="-6.5" y1="-10.5" x2="-6.5" y2="0" stroke-width="1"/>
</g>
<g transform="translate(785,967) rotate(-45) scale(0.92,1)">
<path d="M0,-34.15 H32.25 A21.5,21 0 0 1 53.75,-13.15 V13.1 A21.5,21 0 0 1 32.25,34.1 H0" fill="none" stroke="#000" stroke-width="1.1"/>
<rect x="13.25" y="-32.9" width="39.5" height="66.5" rx="19.5" fill="none" stroke="#000" stroke-width="1.1"/>
<circle cx="23.75" cy="-0.4" r="3.2" fill="none" stroke="#000" stroke-width="1.6"/>
<line x1="7.25" y1="-0.4" x2="19.75" y2="-0.4" stroke="#000" stroke-width="1.6"/>
</g>
<line x1="1012.5" y1="754.5" x2="1077" y2="819" stroke="#000" stroke-width="1.1"/>
<g transform="translate(1044.25,786.25) rotate(-135)" fill="none" stroke="#000">
<path d="M-19.5,0 L-20.5,-30 C-22,-48 -14,-59 0,-59 C14,-59 22,-48 20.5,-30 L19.5,0" stroke-width="1.1"/>
<ellipse cx="0" cy="-37" rx="16.5" ry="21" stroke-width="1.6"/>
<ellipse cx="0" cy="-37" rx="13" ry="17.5" stroke-width="1"/>
<circle cx="-0.5" cy="-28.5" r="4" stroke-width="1.1"/>
<line x1="-20" y1="-10" x2="20" y2="-10" stroke-width="0.9"/>
</g>
<g transform="translate(984,696) rotate(-135)" fill="#fff" stroke="#000">
<circle cx="0" cy="-27.25" r="4.3" stroke-width="1.1"/>
<line x1="0" y1="-23" x2="0" y2="-9" stroke-width="1.6"/>
<rect x="-7.5" y="-13.5" width="18.5" height="3" stroke-width="1"/>
<rect x="-4" y="-9" width="6.5" height="9" stroke-width="1"/>
<line x1="-6.5" y1="-10.5" x2="-6.5" y2="0" stroke-width="1"/>
</g>
<line x1="1128.75" y1="439.3" x2="1334.5" y2="439.3" stroke="#000" stroke-width="1.0"/>
<line x1="1128.75" y1="441.5" x2="1334.5" y2="441.5" stroke="#000" stroke-width="1.0"/>
<path d="M1194,444.5 L1196,440.5 L1199,440.5 L1201,444.5 Z" fill="#fff" stroke="#000" stroke-width="0.9"/>
<path d="M1261.5,444.5 L1263.5,440.5 L1266.5,440.5 L1268.5,444.5 Z" fill="#fff" stroke="#000" stroke-width="0.9"/>
<text transform="translate(1571.8,152.3) scale(1.02,1.02)" font-size="32" text-anchor="middle" fill="#000">Soveværelse</text>
<text transform="translate(1572.4,183.1) scale(1,1.02)" font-size="32" text-anchor="middle" fill="#000">13.2 m²</text>
<text transform="translate(1239,221.9) scale(1.02,1.02)" font-size="32" text-anchor="middle" fill="#000">Bad</text>
<text transform="translate(1238.1,252.5) scale(1,1.02)" font-size="32" text-anchor="middle" fill="#000">4.3 m²</text>
<text transform="translate(1025,507.5) scale(1.02,1.02)" font-size="32" text-anchor="middle" fill="#000">Køkken/Alrum/Stue</text>
<text transform="translate(1023.5,537.5) scale(1,1.02)" font-size="32" text-anchor="middle" fill="#000">39.5 m²</text>
<text transform="translate(661.3,708.7) scale(1.02,1.02)" font-size="32" text-anchor="middle" fill="#000">Entré</text>
<text transform="translate(661.3,739.5) scale(1,1.02)" font-size="32" text-anchor="middle" fill="#000">10.2 m²</text>
<text transform="translate(339.5,789) scale(1.02,1.02)" font-size="32" text-anchor="middle" fill="#000">Værelse</text>
<text transform="translate(340.9,819.8) scale(1,1.02)" font-size="32" text-anchor="middle" fill="#000">10.2 m²</text>
<text transform="translate(609.8,1052.5) scale(1.02,1.02)" font-size="32" text-anchor="middle" fill="#000">Værelse</text>
<text transform="translate(610.9,1083.3) scale(1,1.02)" font-size="32" text-anchor="middle" fill="#000">10.2 m²</text>
<text transform="translate(881.6,886.1) scale(1.02,1.02)" font-size="32" text-anchor="middle" fill="#000">Bad</text>
<text transform="translate(881,917) scale(1,1.02)" font-size="32" text-anchor="middle" fill="#000">5.3 m²</text>
<circle cx="1857" cy="39" r="5.7" fill="#fff" stroke="#000" stroke-width="2.9"/>
<circle cx="1894" cy="75.8" r="5.7" fill="#fff" stroke="#000" stroke-width="2.9"/>
<circle cx="1894" cy="812.5" r="5.7" fill="#fff" stroke="#000" stroke-width="2.9"/>
<circle cx="1857" cy="849.2" r="5.7" fill="#fff" stroke="#000" stroke-width="2.9"/>
<circle cx="33" cy="794.7" r="5.7" fill="#fff" stroke="#000" stroke-width="2.9"/>
<circle cx="33" cy="846.8" r="5.7" fill="#fff" stroke="#000" stroke-width="2.9"/>
<circle cx="553.8" cy="1368" r="5.7" fill="#fff" stroke="#000" stroke-width="2.9"/>
<circle cx="605.5" cy="1368" r="5.7" fill="#fff" stroke="#000" stroke-width="2.9"/>
</svg>
</body></html>
